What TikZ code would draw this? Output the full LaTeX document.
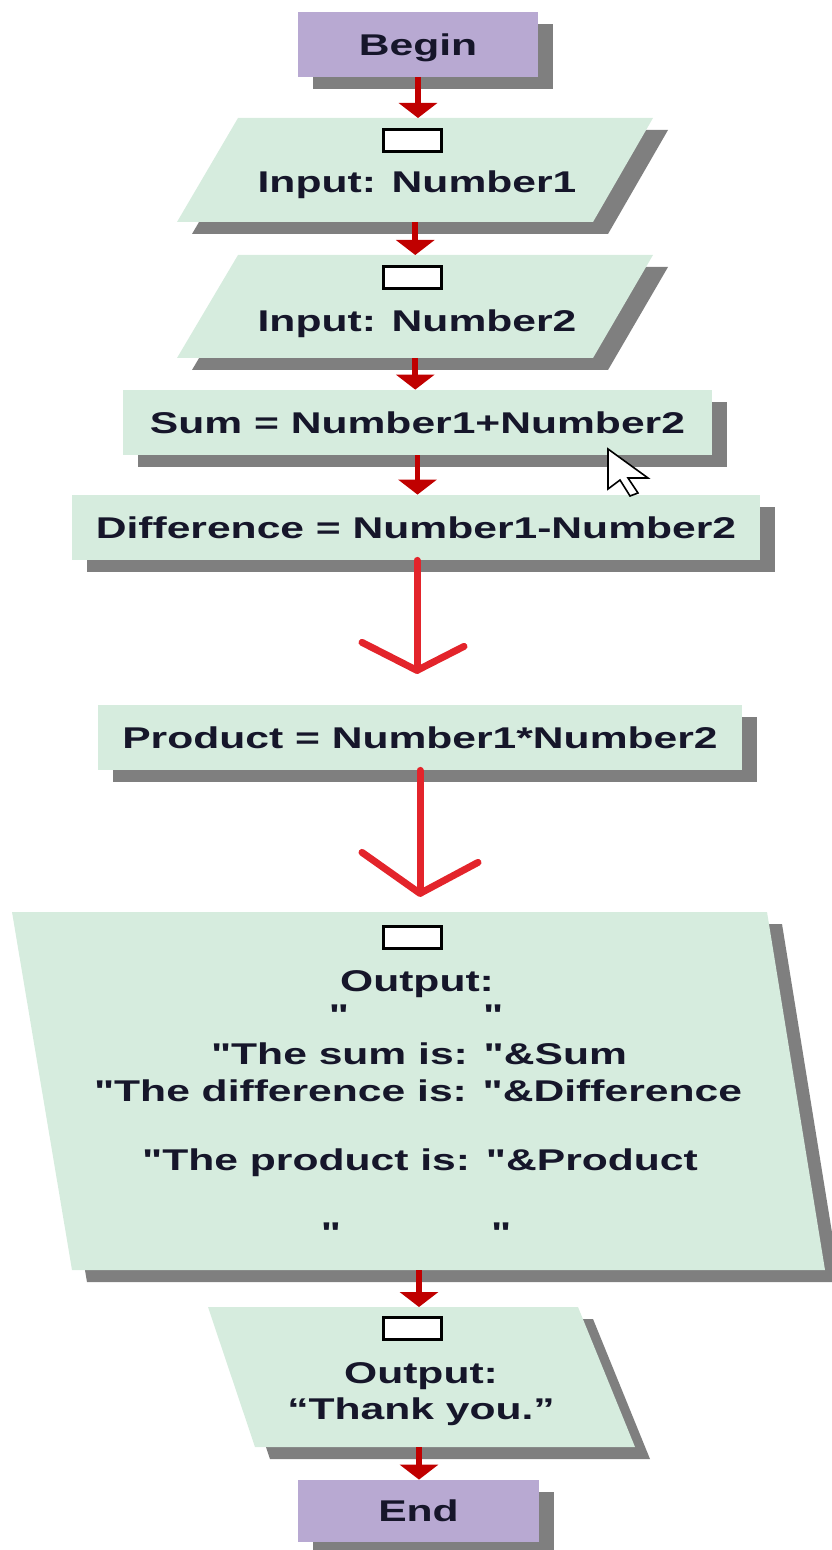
\documentclass[tikz,border=0pt]{standalone}
\usepackage{fontspec}
\setmainfont{Liberation Sans}[FakeStretch=1.42, Ligatures=TeXOff]
\usetikzlibrary{arrows.meta,shadows,calc}
\definecolor{boxgreen}{HTML}{D6ECDE}
\definecolor{boxpurple}{HTML}{B8A9D2}
\definecolor{shadowgray}{HTML}{7F7F7F}
\definecolor{arrowred}{HTML}{C00000}
\definecolor{bigred}{HTML}{E3242B}
\definecolor{textc}{HTML}{16162A}
\newcommand\dq{\symbol{34}}
% parallelogram: name, top y, bottom y, top-left x, top-right x, bottom-left x, bottom-right x
\newcommand\paragram[7]{%
  \fill[shadowgray] (#4+15,#2+12) -- (#5+15,#2+12) -- (#7+15,#3+12) -- (#6+15,#3+12) -- cycle;
  \fill[boxgreen] (#4,#2) -- (#5,#2) -- (#7,#3) -- (#6,#3) -- cycle;
  \node[anchorbox, minimum height={(#3-#2)*0.5pt}, minimum width=10pt] (#1) at ({(#4+#5+#6+#7)/4},{(#2+#3)/2}) {};
}
\begin{document}
\begin{tikzpicture}[x=0.5pt,y=-0.5pt,
  lbl/.style={text=textc, font=\fontsize{15}{18}\selectfont\bfseries, inner sep=0pt, anchor=base},
  sh/.style={drop shadow={shadow xshift=7.5pt, shadow yshift=-6pt, fill=shadowgray, opacity=1}},
  boxtext/.style={text=textc, font=\fontsize{15}{18}\selectfont\bfseries, inner sep=0pt, text height=10.7pt, text depth=0pt},
  procbox/.style={boxtext, fill=boxgreen, sh},
  termbox/.style={boxtext, fill=boxpurple, sh},
  marker/.style={draw=black, line width=1.5pt, fill=white, minimum width=29pt, minimum height=11pt, inner sep=0pt},
  anchorbox/.style={inner sep=0pt, outer sep=0pt},
  flow/.style={draw=arrowred, line width=2.8pt, -{Triangle[width=19pt,length=7.5pt]}},
  bigflow/.style={draw=bigred, line width=3.5pt, line cap=round, line join=round},
]
\useasboundingbox (0,0) rectangle (831,1550);

% terminals and process boxes
\node[termbox, minimum width=120pt, minimum height=32.5pt] (begin) at (418,44.5) {Begin};

\paragram{in1}{118}{222}{238}{653}{177}{593}
\node[marker] (in1m) at (412.5,140.5) {};
\node[lbl] (in1t) at (417,193) {Input: Number1};

\paragram{in2}{255}{358}{238}{653}{177}{593}
\node[marker] (in2m) at (412.5,277.5) {};
\node[lbl] (in2t) at (417,332) {Input: Number2};

\node[procbox, minimum width=294.5pt, minimum height=32.5pt] (sum) at (417.5,422.5) {Sum = Number1+Number2};
\node[procbox, minimum width=344pt, minimum height=32.5pt] (diff) at (416,527.5) {Difference = Number1-Number2};
\node[procbox, minimum width=322pt, minimum height=32.5pt] (prod) at (420,737.5) {Product = Number1*Number2};

\paragram{out1}{912}{1270}{12}{767}{72}{825}
\node[marker] (out1m) at (412,937.5) {};
\node[lbl] (o1) at (417,991) {Output:};
\node[lbl] (o2) at (416,1025) {\dq\hspace{67pt}\dq};
\node[lbl] (o3) at (419,1064) {\dq The sum is: \dq\&Sum};
\node[lbl] (o4) at (418,1101) {\dq The difference is: \dq\&Difference};
\node[lbl] (o5) at (420,1170) {\dq The product is: \dq\&Product};
\node[lbl] (o6) at (416,1243) {\dq\hspace{75pt}\dq};

\paragram{out2}{1307}{1447}{208}{578}{255}{635}
\node[marker] (out2m) at (412.5,1328.5) {};
\node[lbl] (o7) at (421,1383) {Output:};
\node[lbl] (o8) at (421,1419) {“Thank you.”};

\node[termbox, minimum width=120.5pt, minimum height=31pt] (end) at (418.5,1511) {End};

% mouse pointer
\draw[fill=white, draw=black, line width=0.8pt, line join=miter]
  (608,449) -- ++(0,40) -- ++(12,-9) -- ++(10,16) -- ++(8,-3) -- ++(-10,-15) -- ++(20,0) -- cycle;

% connectors
\draw[flow] (begin.south) -- (begin.south |- in1.north);
\draw[flow] (in1.south) -- (in2.north);
\draw[flow] (in2.south) -- (in2.south |- sum.north);
\draw[flow] (sum.south) -- (sum.south |- diff.north);

\coordinate (tip1) at ($(diff.south)+(1,110)$);
\draw[bigflow] (diff.south -| tip1) -- (tip1);
\draw[bigflow] ($(tip1)+(-55,-28)$) -- (tip1) -- ($(tip1)+(47,-24)$);

\coordinate (tip2) at ($(prod.south)+(0,123)$);
\draw[bigflow] (prod.south) -- (tip2);
\draw[bigflow] ($(tip2)+(-58,-41)$) -- (tip2) -- ($(tip2)+(58,-31)$);

\draw[flow] (out1.south) -- (out2.north);
\draw[flow] (out2.south) -- (out2.south |- end.north);
\end{tikzpicture}
\end{document}
